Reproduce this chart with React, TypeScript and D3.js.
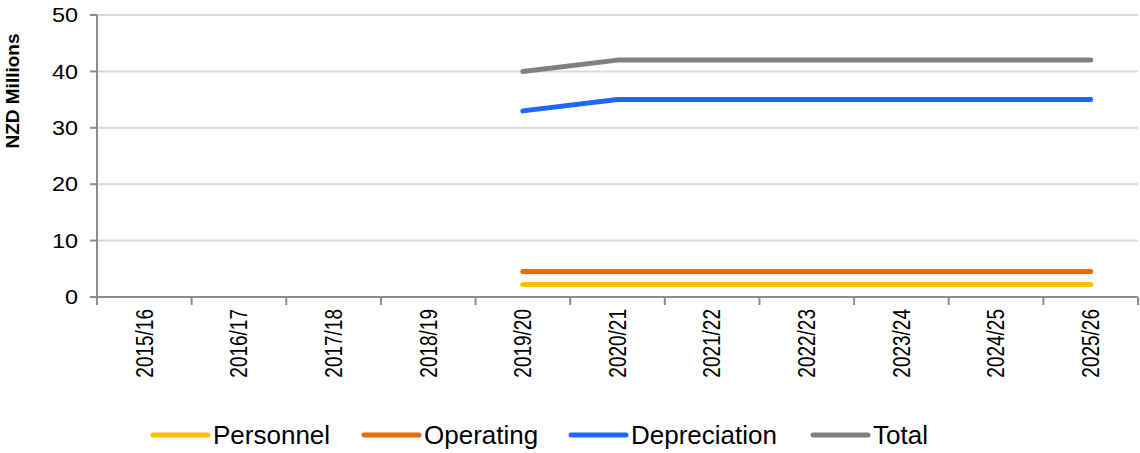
import React from "react";
import * as d3 from "d3";

const categories = ["2015/16","2016/17","2017/18","2018/19","2019/20","2020/21","2021/22","2022/23","2023/24","2024/25","2025/26"];
const personnel: (number|null)[] = [null,null,null,null,2.2,2.2,2.2,2.2,2.2,2.2,2.2];
const operating: (number|null)[] = [null,null,null,null,4.5,4.5,4.5,4.5,4.5,4.5,4.5];
const depreciation: (number|null)[] = [null,null,null,null,33,35,35,35,35,35,35];
const total: (number|null)[] = [null,null,null,null,40,42,42,42,42,42,42];
const yTicks = [0,10,20,30,40,50];

const seriesNames = ["Personnel","Operating","Depreciation","Total"];
const seriesColors = ["#FFC000","#E46C0A","#1F66FF","#808080"];
const seriesValues = [personnel, operating, depreciation, total];

export default function App() {
  const W = 1140, H = 453;
  const left = 97, right = 1138, top = 15, bottom = 297;
  const x = d3.scaleBand<string>().domain(categories).range([left, right]);
  const y = d3.scaleLinear().domain([0, 50]).range([bottom, top]);
  const font = "'Liberation Sans', Arial, sans-serif";
  const line = d3.line<[string, number|null]>()
    .defined(d => d[1] != null)
    .x(d => (x(d[0]) as number) + x.bandwidth() / 2)
    .y(d => y(d[1] as number));
  const legendX = [153, 364, 571, 813];
  const legendY = 435;
  return (
    <svg width={W} height={H} style={{ position: "absolute", left: 0, top: 0, background: "#fff" }}>
      {yTicks.filter(t => t > 0).map(t => (
        <line key={"g"+t} x1={left} x2={right} y1={y(t)} y2={y(t)} stroke="#d9d9d9" strokeWidth={2} />
      ))}
      <line x1={left} x2={left} y1={top} y2={bottom} stroke="#8c8c8c" strokeWidth={2} />
      <line x1={left} x2={right} y1={bottom} y2={bottom} stroke="#8c8c8c" strokeWidth={2} />
      {yTicks.map(t => (
        <g key={"yt"+t}>
          <line x1={left - 7} x2={left} y1={y(t)} y2={y(t)} stroke="#8c8c8c" strokeWidth={2} />
          <text x={78} y={y(t)} dy="0.36em" textAnchor="end" fontFamily={font} fontSize={20}
            transform={`translate(78,0) scale(1.17,1) translate(-78,0)`} fill="#000">{t}</text>
        </g>
      ))}
      {categories.map((c) => (
        <line key={"xt"+c} x1={(x(c) as number)} x2={(x(c) as number)} y1={bottom} y2={bottom + 8} stroke="#8c8c8c" strokeWidth={2} />
      ))}
      <line x1={right} x2={right} y1={bottom} y2={bottom + 8} stroke="#8c8c8c" strokeWidth={2} />
      {categories.map(c => {
        const cx = (x(c) as number) + x.bandwidth() / 2;
        return (
          <text key={"xl"+c} transform={`translate(${cx},309) scale(1.22,1) rotate(-90)`} dy="0.36em"
            textAnchor="end" fontFamily={font} fontSize={19} fill="#000">{c}</text>
        );
      })}
      <text transform={`translate(12,91) rotate(-90)`} dy="0.36em" textAnchor="middle"
        fontFamily={font} fontSize={19} fontWeight="bold" fill="#000">NZD Millions</text>
      {seriesValues.map((vals, i) => (
        <path key={"s"+i} d={line(categories.map((c, j) => [c, vals[j]] as [string, number|null])) || ""}
          fill="none" stroke={seriesColors[i]} strokeWidth={5} strokeLinecap="round" strokeLinejoin="round" />
      ))}
      {seriesNames.map((n, i) => (
        <g key={"lg"+n}>
          <line x1={legendX[i]} x2={legendX[i] + 55} y1={legendY} y2={legendY} stroke={seriesColors[i]} strokeWidth={5} strokeLinecap="round" />
          <text x={legendX[i] + 60} y={legendY} dy="0.36em" fontFamily={font} fontSize={26} fill="#000">{n}</text>
        </g>
      ))}
    </svg>
  );
}
